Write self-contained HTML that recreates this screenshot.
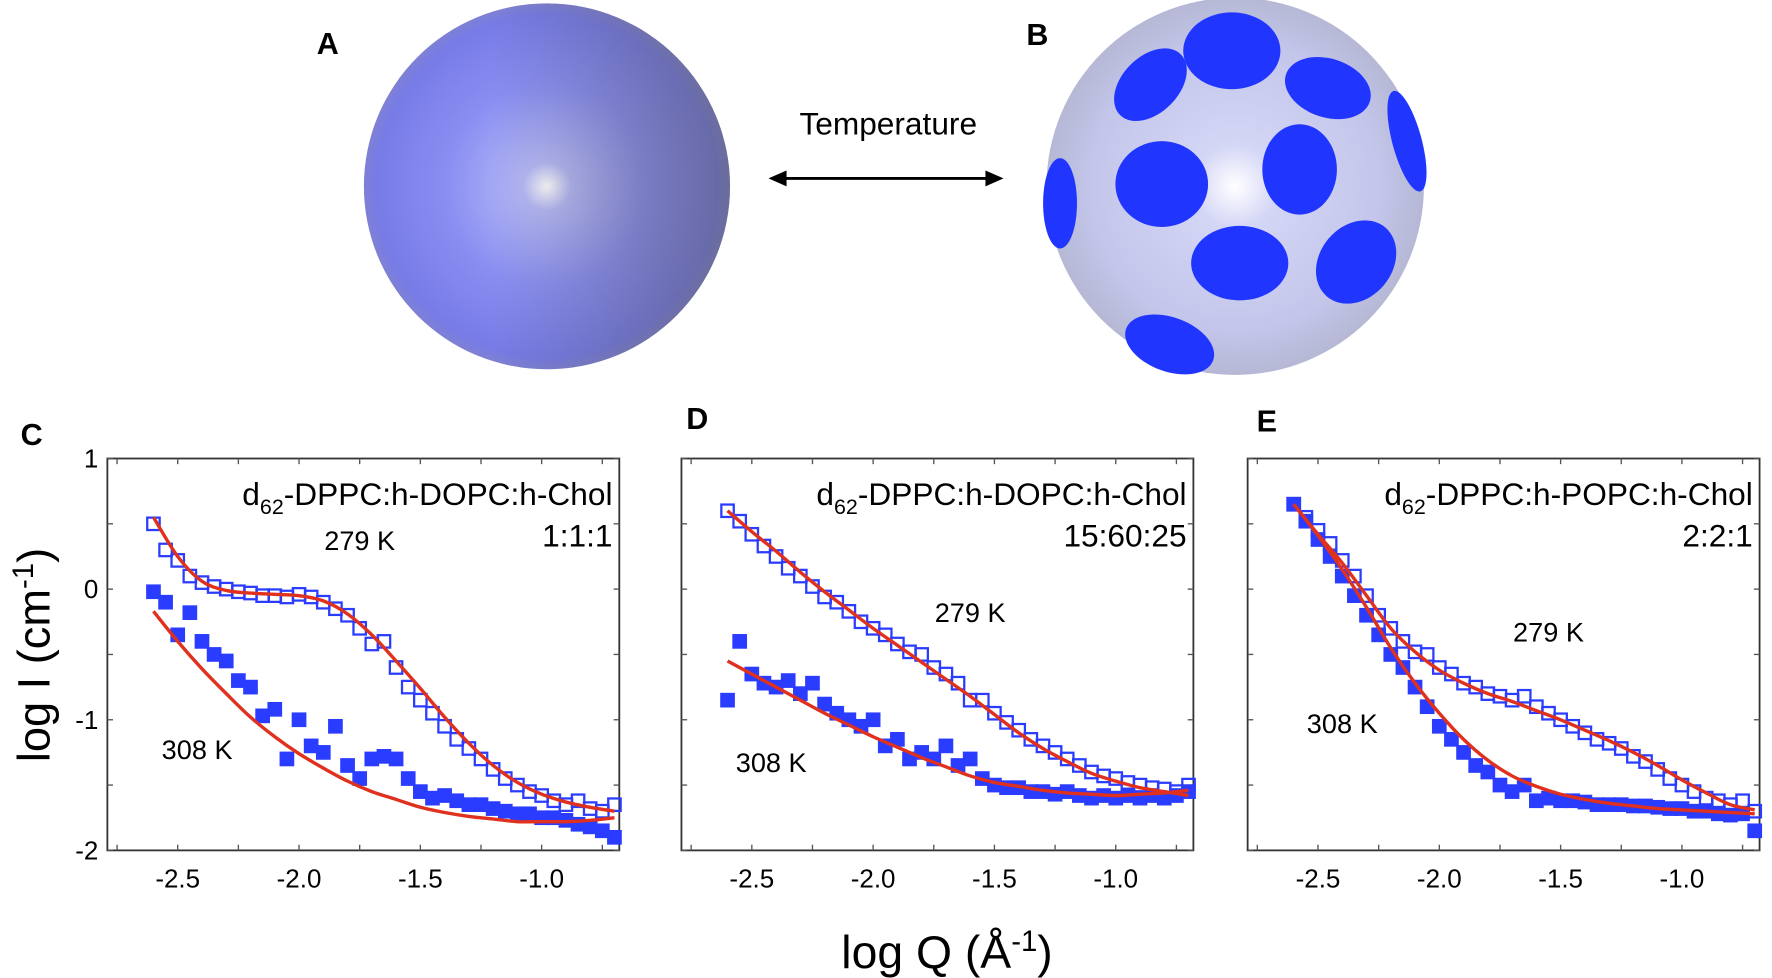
<!DOCTYPE html>
<html><head><meta charset="utf-8"><style>
html,body{margin:0;padding:0;background:#fff;width:1772px;height:978px;overflow:hidden}
svg{display:block}
text{font-family:"Liberation Sans",Arial,sans-serif}
</style></head><body>
<svg id="fig" width="1772" height="978" viewBox="0 0 1568 866" preserveAspectRatio="none">
<defs>
<radialGradient id="gA" cx="0.5" cy="0.5" r="0.55" fx="0.5" fy="0.5">
<stop offset="0" stop-color="#ffffff"/><stop offset="0.12" stop-color="#b4b8f6"/><stop offset="0.5" stop-color="#8a8ef2"/><stop offset="0.85" stop-color="#777be6"/><stop offset="1" stop-color="#8a8ab8"/></radialGradient>
<linearGradient id="gA2" x1="0" y1="0" x2="1" y2="0"><stop offset="0.35" stop-color="#444" stop-opacity="0"/><stop offset="1" stop-color="#555" stop-opacity="0.45"/></linearGradient>
<radialGradient id="gB" cx="0.5" cy="0.5" r="0.55"><stop offset="0" stop-color="#ffffff"/><stop offset="0.2" stop-color="#d4d6f6"/><stop offset="0.7" stop-color="#c3c5ea"/><stop offset="1" stop-color="#b0b2cc"/></radialGradient>
</defs>
<g>
<text x="290" y="48" font-size="27" font-weight="bold" text-anchor="middle">A</text>
<circle cx="484" cy="165" r="162" fill="url(#gA)"/>
<circle cx="484" cy="165" r="162" fill="url(#gA2)"/>
</g>
<g>
<text x="786" y="119" font-size="28" text-anchor="middle">Temperature</text>
<line x1="690" y1="158" x2="878" y2="158" stroke="#000" stroke-width="2.5"/>
<path d="M680,158 L696,151 L696,165 Z M888,158 L872,151 L872,165 Z" fill="#000"/>
</g>
<g>
<text x="918" y="40" font-size="27" font-weight="bold" text-anchor="middle">B</text>
<circle cx="1093" cy="165" r="167" fill="url(#gB)"/>
<g fill="#2036ff">
<ellipse cx="1090" cy="45" rx="43" ry="34"/>
<ellipse cx="1175" cy="78" rx="39" ry="26" transform="rotate(18 1175 78)"/>
<ellipse cx="1245" cy="125" rx="13" ry="46" transform="rotate(-15 1245 125)"/>
<ellipse cx="1018" cy="75" rx="25" ry="38" transform="rotate(45 1018 75)"/>
<ellipse cx="938" cy="180" rx="15" ry="40"/>
<ellipse cx="1028" cy="163" rx="41" ry="38"/>
<ellipse cx="1150" cy="150" rx="33" ry="40"/>
<ellipse cx="1097" cy="233" rx="43" ry="33"/>
<ellipse cx="1200" cy="232" rx="32" ry="40" transform="rotate(40 1200 232)"/>
<ellipse cx="1035" cy="305" rx="41" ry="24" transform="rotate(20 1035 305)"/>
</g>
</g>
<text x="28" y="394" font-size="27" font-weight="bold" text-anchor="middle">C</text>
<text x="617" y="380" font-size="27" font-weight="bold" text-anchor="middle">D</text>
<text x="1121" y="382" font-size="27" font-weight="bold" text-anchor="middle">E</text>
<text transform="translate(44,580) rotate(-90)" font-size="40" text-anchor="middle">log I (cm<tspan dy="-15" font-size="26">-1</tspan><tspan dy="15">)</tspan></text>
<text x="838" y="857" font-size="41" text-anchor="middle">log Q (Å<tspan dy="-15" font-size="26">-1</tspan><tspan dy="15">)</tspan></text>
<g id="plots"></g>
</svg>
<script>
// shared x grid for data points (log Q)
const xData = [-2.6,-2.55,-2.5,-2.45,-2.4,-2.35,-2.3,-2.25,-2.2,-2.15,-2.1,-2.05,-2.0,-1.95,-1.9,-1.85,-1.8,-1.75,-1.7,-1.65,-1.6,-1.55,-1.5,-1.45,-1.4,-1.35,-1.3,-1.25,-1.2,-1.15,-1.1,-1.05,-1.0,-0.95,-0.9,-0.85,-0.8,-0.75,-0.7];
const xFit = [-2.6,-2.5,-2.4,-2.3,-2.2,-2.1,-2.0,-1.9,-1.8,-1.7,-1.6,-1.5,-1.4,-1.3,-1.2,-1.1,-1.0,-0.9,-0.8,-0.7];
const xTicks = [-2.5,-2.0,-1.5,-1.0];
const xTickLabels = ["-2.5","-2.0","-1.5","-1.0"];
const yTicks = [1,0,-1,-2];
const yTickLabels = ["1","0","-1","-2"];

const c279 = [0.5,0.3,0.22,0.1,0.05,0.02,0.0,-0.02,-0.03,-0.05,-0.05,-0.06,-0.04,-0.06,-0.1,-0.15,-0.2,-0.3,-0.42,-0.4,-0.6,-0.75,-0.85,-0.95,-1.05,-1.15,-1.22,-1.3,-1.38,-1.45,-1.5,-1.55,-1.58,-1.62,-1.65,-1.62,-1.68,-1.7,-1.65];
const c308 = [-0.02,-0.1,-0.35,-0.18,-0.4,-0.5,-0.55,-0.7,-0.75,-0.97,-0.92,-1.3,-1.0,-1.2,-1.25,-1.05,-1.35,-1.45,-1.3,-1.28,-1.3,-1.45,-1.55,-1.6,-1.58,-1.62,-1.65,-1.65,-1.68,-1.7,-1.72,-1.72,-1.75,-1.75,-1.77,-1.8,-1.82,-1.85,-1.9];
const c279fit = [0.55,0.25,0.06,-0.01,-0.03,-0.04,-0.05,-0.09,-0.19,-0.35,-0.55,-0.76,-0.98,-1.18,-1.35,-1.48,-1.57,-1.63,-1.67,-1.7];
const c308fit = [-0.17,-0.4,-0.61,-0.8,-0.98,-1.13,-1.26,-1.37,-1.47,-1.55,-1.61,-1.67,-1.71,-1.74,-1.76,-1.78,-1.78,-1.78,-1.77,-1.75];

const d279 = [0.6,0.52,0.42,0.33,0.25,0.16,0.1,0.02,-0.06,-0.1,-0.17,-0.25,-0.3,-0.35,-0.42,-0.48,-0.5,-0.6,-0.65,-0.72,-0.85,-0.85,-0.95,-1.02,-1.08,-1.15,-1.2,-1.25,-1.3,-1.35,-1.4,-1.43,-1.45,-1.48,-1.5,-1.52,-1.53,-1.55,-1.5];
const d308 = [-0.85,-0.4,-0.65,-0.72,-0.75,-0.7,-0.8,-0.72,-0.88,-0.95,-1.0,-1.05,-1.0,-1.2,-1.15,-1.3,-1.25,-1.3,-1.2,-1.35,-1.3,-1.45,-1.5,-1.52,-1.52,-1.55,-1.55,-1.57,-1.55,-1.58,-1.6,-1.58,-1.6,-1.58,-1.6,-1.58,-1.6,-1.58,-1.55];
const d279fit = [0.6,0.44,0.29,0.13,-0.02,-0.16,-0.3,-0.43,-0.56,-0.69,-0.82,-0.96,-1.1,-1.22,-1.32,-1.41,-1.47,-1.52,-1.55,-1.58];
const d308fit = [-0.55,-0.65,-0.75,-0.85,-0.95,-1.04,-1.13,-1.21,-1.29,-1.36,-1.43,-1.48,-1.51,-1.54,-1.56,-1.57,-1.58,-1.57,-1.56,-1.54];

const e279 = [0.65,0.55,0.45,0.35,0.22,0.1,-0.05,-0.2,-0.3,-0.4,-0.48,-0.5,-0.6,-0.65,-0.72,-0.75,-0.8,-0.82,-0.85,-0.82,-0.9,-0.95,-1.0,-1.05,-1.1,-1.15,-1.18,-1.22,-1.28,-1.32,-1.38,-1.45,-1.5,-1.55,-1.6,-1.62,-1.65,-1.62,-1.7];
const e308 = [0.65,0.52,0.38,0.25,0.1,-0.05,-0.2,-0.35,-0.5,-0.6,-0.75,-0.9,-1.05,-1.15,-1.25,-1.35,-1.4,-1.5,-1.55,-1.5,-1.62,-1.6,-1.62,-1.62,-1.63,-1.65,-1.65,-1.65,-1.66,-1.66,-1.67,-1.68,-1.68,-1.7,-1.7,-1.72,-1.73,-1.72,-1.85];
const e279fit = [0.65,0.42,0.2,-0.05,-0.3,-0.48,-0.62,-0.72,-0.8,-0.86,-0.93,-1.0,-1.08,-1.16,-1.25,-1.35,-1.46,-1.56,-1.65,-1.69];
const e308fit = [0.65,0.41,0.15,-0.14,-0.45,-0.72,-0.95,-1.15,-1.31,-1.43,-1.51,-1.57,-1.61,-1.64,-1.66,-1.68,-1.69,-1.7,-1.71,-1.72];

const panels = [
 {name:"panel-c", left:95, title:"DOPC", ratio:"1:1:1", s279:c279, s308:c308, f279:c279fit, f308:c308fit, yLabels:true, l279:[-1.75,0.3], l308:[-2.42,-1.3]},
 {name:"panel-d", left:603, title:"DOPC", ratio:"15:60:25", s279:d279, s308:d308, f279:d279fit, f308:d308fit, yLabels:false, l279:[-1.6,-0.25], l308:[-2.42,-1.4]},
 {name:"panel-e", left:1104, title:"POPC", ratio:"2:2:1", s279:e279, s308:e308, f279:e279fit, f308:e308fit, yLabels:false, l279:[-1.55,-0.4], l308:[-2.4,-1.1]}
];
const NS="http://www.w3.org/2000/svg";
const root=document.getElementById('plots');
const top0=406, bot0=753, W=453, xmin=-2.79, xmax=-0.68, ymin=-2, ymax=1;
function mk(t,a,p){const e=document.createElementNS(NS,t);for(const k in a)e.setAttribute(k,a[k]);(p||root).appendChild(e);return e;}
function smooth(pts){let d="M"+pts[0][0]+","+pts[0][1];for(let i=0;i<pts.length-1;i++){const p0=pts[Math.max(0,i-1)],p1=pts[i],p2=pts[i+1],p3=pts[Math.min(pts.length-1,i+2)];const c1=[p1[0]+(p2[0]-p0[0])/6,p1[1]+(p2[1]-p0[1])/6],c2=[p2[0]-(p3[0]-p1[0])/6,p2[1]-(p3[1]-p1[1])/6];d+=" C"+c1+" "+c2+" "+p2;}return d;}
panels.forEach(P=>{
 const sx=v=>P.left+(v-xmin)/(xmax-xmin)*W;
 const sy=v=>bot0-(v-ymin)/(ymax-ymin)*(bot0-top0);
 const g=mk('g',{});
 
 
 const box=mk('rect',{x:P.left,y:top0,width:W,height:bot0-top0,fill:'none',stroke:'#333','stroke-width':1.6},g);
 
 
 for(let v=-2.75;v<=-0.7;v+=0.25){mk('line',{x1:sx(v),x2:sx(v),y1:bot0,y2:bot0-5,stroke:'#555','stroke-width':1.2},g);mk('line',{x1:sx(v),x2:sx(v),y1:top0,y2:top0+5,stroke:'#555','stroke-width':1.2},g);}
 for(let v=-2;v<=1;v+=0.5){mk('line',{x1:P.left,x2:P.left+5,y1:sy(v),y2:sy(v),stroke:'#555','stroke-width':1.2},g);mk('line',{x1:P.left+W,x2:P.left+W-5,y1:sy(v),y2:sy(v),stroke:'#555','stroke-width':1.2},g);}
 xTicks.forEach((v,i)=>{const t=mk('text',{x:sx(v),y:bot0+33,'font-size':23,'text-anchor':'middle'},g);t.textContent=xTickLabels[i];
  
  });
 if(P.yLabels) yTicks.forEach((v,i)=>{const t=mk('text',{x:P.left-8,y:sy(v)+8,'font-size':23,'text-anchor':'end'},g);t.textContent=yTickLabels[i];
  
  });
 P.s308.forEach((v,i)=>{const r=mk('rect',{x:sx(xData[i])-6.5,y:sy(v)-6.5,width:13,height:13,fill:'#2a3cff'},g);
  
  });
 P.s279.forEach((v,i)=>{const r=mk('rect',{x:sx(xData[i])-5.5,y:sy(v)-5.5,width:11,height:11,fill:'none',stroke:'#2a3cff','stroke-width':2},g);
  
  });
 [P.f279,P.f308].forEach((arr,k)=>{const p=mk('path',{d:smooth(arr.map((v,i)=>[sx(xFit[i]),sy(v)])),fill:'none',stroke:'#e0301e','stroke-width':3},g);
  
  });
 const t1=mk('text',{x:P.left+W-6,y:top0+41,'font-size':28,'text-anchor':'end'},g);
 t1.innerHTML='d<tspan dy="8" font-size="19">62</tspan><tspan dy="-8">-DPPC:h-'+P.title+':h-Chol</tspan>';
 
 
 const t2=mk('text',{x:P.left+W-6,y:top0+78,'font-size':28,'text-anchor':'end'},g);
 t2.textContent=P.ratio;
 
 
 const a=mk('text',{x:sx(P.l279[0]),y:sy(P.l279[1]),'font-size':24,'text-anchor':'middle'},g);a.textContent='279 K';
 
 
 const b=mk('text',{x:sx(P.l308[0]),y:sy(P.l308[1]),'font-size':24,'text-anchor':'middle'},g);b.textContent='308 K';
 
 
});
</script>
</body></html>
